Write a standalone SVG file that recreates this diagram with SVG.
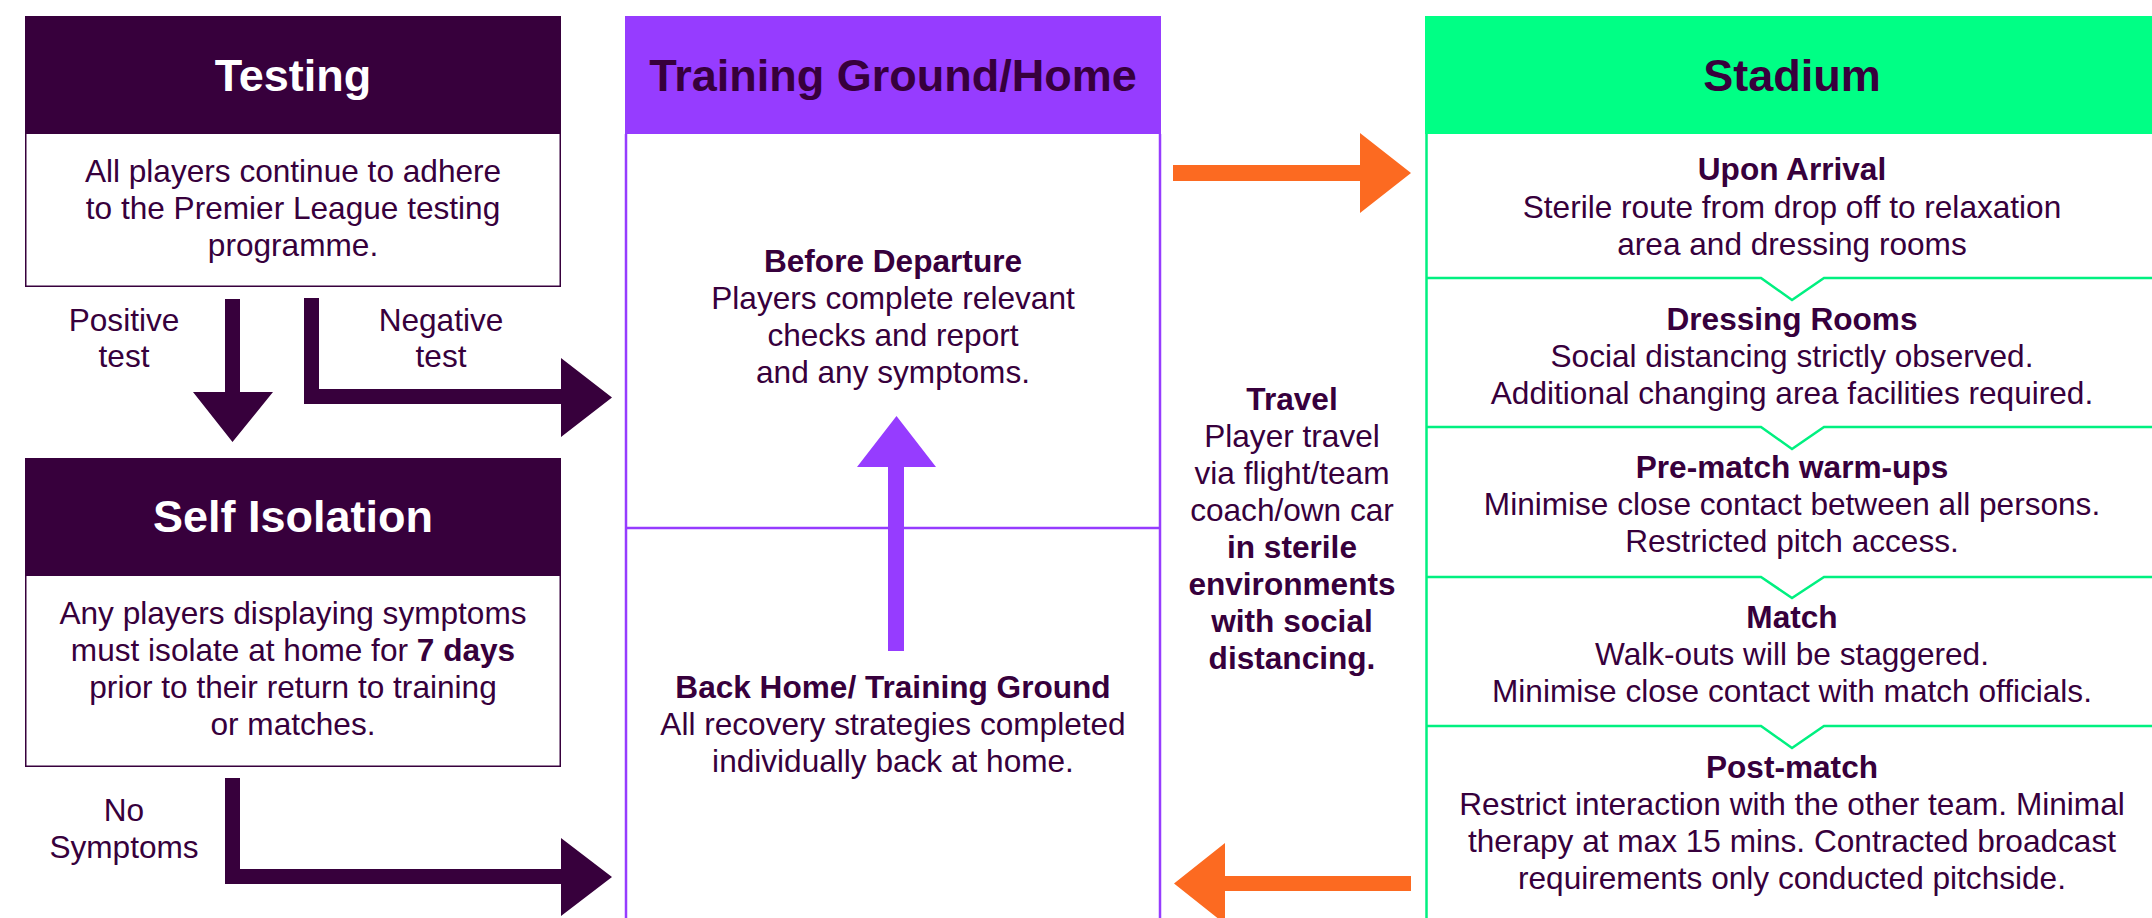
<svg xmlns="http://www.w3.org/2000/svg" width="2152" height="918" viewBox="0 0 2152 918">
<style>
text{font-family:"Liberation Sans",Arial,sans-serif;fill:#37003c;text-anchor:middle}
.h{font-size:45px;font-weight:bold}
.hw{fill:#ffffff}
.b{font-size:31.6px}
.bb{font-size:31.6px;font-weight:bold}
.dark{fill:#37003c}
.purp{fill:#963cff}
.orange{fill:#fc6a21}
.gline{fill:none;stroke:#00f080;stroke-width:2.5}
</style>
<rect width="2152" height="918" fill="#ffffff"/>

<g id="testing">
  <rect x="25.75" y="16.75" width="534.5" height="269.5" fill="#fff" stroke="#37003c" stroke-width="1.5"/>
  <rect x="25" y="16" width="536" height="118" class="dark"/>
  <text x="293" y="91" class="h hw">Testing</text>
  <text x="293" y="182" class="b">All players continue to adhere</text>
  <text x="293" y="219" class="b">to the Premier League testing</text>
  <text x="293" y="256" class="b">programme.</text>
</g>

<g id="self-isolation">
  <rect x="25.75" y="458.75" width="534.5" height="307.5" fill="#fff" stroke="#37003c" stroke-width="1.5"/>
  <rect x="25" y="458" width="536" height="118" class="dark"/>
  <text x="293" y="532" class="h hw">Self Isolation</text>
  <text x="293" y="624" class="b">Any players displaying symptoms</text>
  <text x="293" y="661" class="b">must isolate at home for <tspan font-weight="bold">7 days</tspan></text>
  <text x="293" y="698" class="b">prior to their return to training</text>
  <text x="293" y="735" class="b">or matches.</text>
</g>

<g id="training-ground">
  <path d="M626,134 V930 M1160,134 V930 M626,528 H1160" fill="none" stroke="#963cff" stroke-width="2.5"/>
  <rect x="625" y="16" width="536" height="118" class="purp"/>
  <text x="893" y="91" class="h">Training Ground/Home</text>
  <text x="893" y="272" class="bb">Before Departure</text>
  <text x="893" y="309" class="b">Players complete relevant</text>
  <text x="893" y="346" class="b">checks and report</text>
  <text x="893" y="383" class="b">and any symptoms.</text>
  <text x="893" y="698" class="bb">Back Home/ Training Ground</text>
  <text x="893" y="735" class="b">All recovery strategies completed</text>
  <text x="893" y="772" class="b">individually back at home.</text>
</g>

<g id="travel">
  <text x="1292" y="410" class="bb">Travel</text>
  <text x="1292" y="447" class="b">Player travel</text>
  <text x="1292" y="484" class="b">via flight/team</text>
  <text x="1292" y="521" class="b">coach/own car</text>
  <text x="1292" y="558" class="bb">in sterile</text>
  <text x="1292" y="595" class="bb">environments</text>
  <text x="1292" y="632" class="bb">with social</text>
  <text x="1292" y="669" class="bb">distancing.</text>
</g>

<g id="stadium">
  <rect x="1425" y="16" width="740" height="118" fill="#00ff85"/>
  <path class="gline" d="M1426.5,134 V930"/>
  <path class="gline" d="M1426,278 H1761 L1792,300 L1824,278 H2152"/>
  <path class="gline" d="M1426,427 H1761 L1792,449 L1824,427 H2152"/>
  <path class="gline" d="M1426,577 H1761 L1792,598 L1824,577 H2152"/>
  <path class="gline" d="M1426,726 H1761 L1792,748 L1824,726 H2152"/>
  <text x="1792" y="91" class="h">Stadium</text>
  <text x="1792" y="180" class="bb">Upon Arrival</text>
  <text x="1792" y="218" class="b">Sterile route from drop off to relaxation</text>
  <text x="1792" y="255" class="b">area and dressing rooms</text>
  <text x="1792" y="330" class="bb">Dressing Rooms</text>
  <text x="1792" y="367" class="b">Social distancing strictly observed.</text>
  <text x="1792" y="404" class="b">Additional changing area facilities required.</text>
  <text x="1792" y="478" class="bb">Pre-match warm-ups</text>
  <text x="1792" y="515" class="b">Minimise close contact between all persons.</text>
  <text x="1792" y="552" class="b">Restricted pitch access.</text>
  <text x="1792" y="628" class="bb">Match</text>
  <text x="1792" y="665" class="b">Walk-outs will be staggered.</text>
  <text x="1792" y="702" class="b">Minimise close contact with match officials.</text>
  <text x="1792" y="778" class="bb">Post-match</text>
  <text x="1792" y="815" class="b">Restrict interaction with the other team. Minimal</text>
  <text x="1792" y="852" class="b">therapy at max 15 mins. Contracted broadcast</text>
  <text x="1792" y="889" class="b">requirements only conducted pitchside.</text>
</g>

<g id="connectors">
  <path class="dark" d="M225,299 H240 V392 H273 L232.5,442 L193,392 H225 Z"/>
  <path class="dark" d="M304,298 H319 V389 H561 V358 L612,397.5 L561,437 V404 H304 Z"/>
  <path class="dark" d="M225,778 H240 V869 H561 V838 L612,877 L561,916 V884 H225 Z"/>
  <path class="purp" d="M888,651 V467 H857 L896.5,416 L936,467 H904 V651 Z"/>
  <path class="orange" d="M1173,165 H1360 V133 L1411,173 L1360,213 V181 H1173 Z"/>
  <path class="orange" d="M1411,876 H1225 V843 L1174,883.5 L1225,924 V891 H1411 Z"/>
  <text x="124" y="331" class="b">Positive</text>
  <text x="124" y="367" class="b">test</text>
  <text x="441" y="331" class="b">Negative</text>
  <text x="441" y="367" class="b">test</text>
  <text x="124" y="821" class="b">No</text>
  <text x="124" y="858" class="b">Symptoms</text>
</g>
</svg>
